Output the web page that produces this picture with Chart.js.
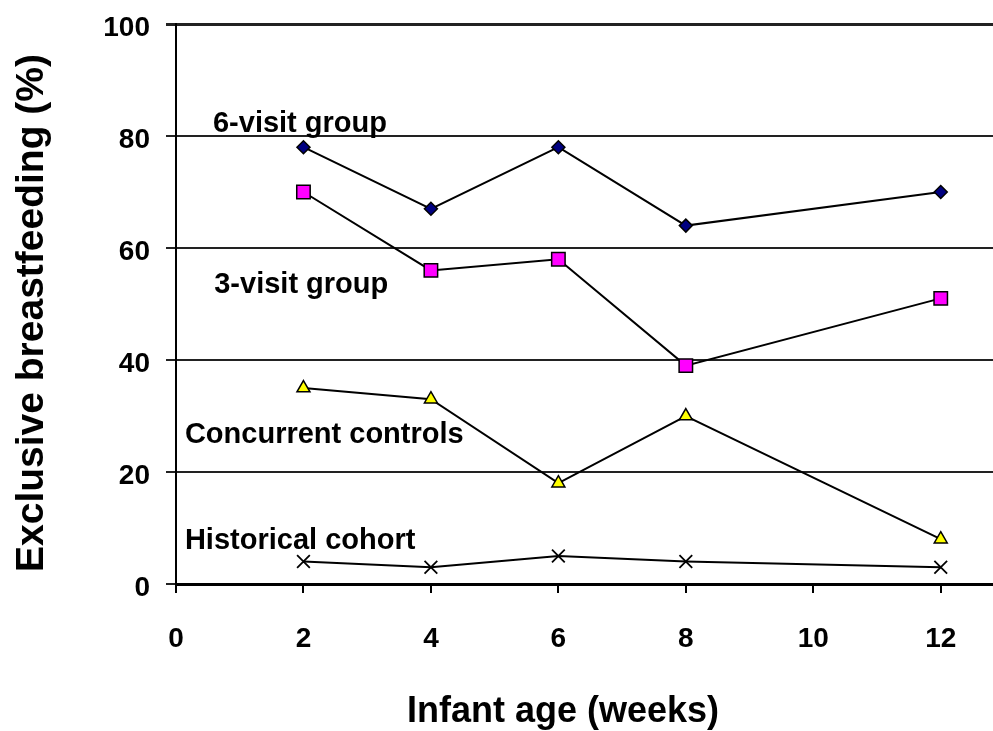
<!DOCTYPE html>
<html><head><meta charset="utf-8">
<script src="https://cdn.jsdelivr.net/npm/chart.js@4/dist/chart.umd.min.js"></script>
<style>html,body{margin:0;padding:0;background:#fff}#wrap{width:993px;height:731px;position:relative}</style>
</head><body><div id="wrap"><canvas id="c" width="993" height="731"></canvas></div>
<script>
const weeks = [2, 4, 6, 8, 12];
const sixVisit = [78, 67, 78, 64, 70];
const threeVisit = [70, 56, 58, 39, 51];
const concurrent = [35, 33, 18, 30, 8];
const historical = [4, 3, 5, 4, 3];
const xTickValues = [0, 2, 4, 6, 8, 10, 12];
const yTickValues = [0, 20, 40, 60, 80, 100];
const seriesNames = ['6-visit group', '3-visit group', 'Concurrent controls', 'Historical cohort'];
const xTitle = 'Infant age (weeks)';
const yTitle = 'Exclusive breastfeeding (%)';

const FAM = "'Liberation Sans', Arial, sans-serif";
const pts = arr => weeks.map((w, i) => ({x: w, y: arr[i]}));

const labelPlugin = {
  id: 'labels',
  afterDraw(chart) {
    const ctx = chart.ctx, xs = chart.scales.x, ys = chart.scales.y;
    ctx.save();
    ctx.fillStyle = '#000';
    ctx.textBaseline = 'alphabetic';
    ctx.textAlign = 'left';
    ctx.font = "bold 29px " + FAM;
    const anchors = [[0.58, 80.7], [0.6, 52.0], [0.14, 25.2], [0.14, 6.25]];
    seriesNames.forEach((n, i) => {
      ctx.fillText(n, xs.getPixelForValue(anchors[i][0]), ys.getPixelForValue(anchors[i][1]));
    });
    // x title
    ctx.textAlign = 'center';
    ctx.font = "bold 36px " + FAM;
    ctx.fillText(xTitle, 563, 722);
    // y title
    ctx.translate(43, 313);
    ctx.rotate(-Math.PI / 2);
    ctx.font = "bold 39px " + FAM;
    ctx.fillText(yTitle, 0, 0);
    ctx.restore();
  }
};

new Chart(document.getElementById('c'), {
  type: 'line',
  data: {
    datasets: [
      {label: seriesNames[0], data: pts(sixVisit), pointStyle: 'rectRot', pointRadius: 6.5,
       pointBackgroundColor: '#000080', pointBorderColor: '#000', pointBorderWidth: 1.5},
      {label: seriesNames[1], data: pts(threeVisit), pointStyle: 'rect', pointRadius: 9.5,
       pointBackgroundColor: '#FF00FF', pointBorderColor: '#000', pointBorderWidth: 1.5},
      {label: seriesNames[2], data: pts(concurrent), pointStyle: 'triangle', pointRadius: 7.5,
       pointBackgroundColor: '#FFFF00', pointBorderColor: '#000', pointBorderWidth: 1.5},
      {label: seriesNames[3], data: pts(historical), pointStyle: 'crossRot', pointRadius: 9,
       pointBackgroundColor: '#000', pointBorderColor: '#000', pointBorderWidth: 1.8}
    ].map(d => Object.assign({borderColor: '#000', borderWidth: 2, tension: 0, fill: false,
       pointHoverRadius: d.pointRadius}, d))
  },
  options: {
    responsive: false,
    devicePixelRatio: 1,
    animation: false,
    events: [],
    layout: {autoPadding: false, padding: {top: 24, left: 0, right: 0, bottom: 0}},
    plugins: {legend: {display: false}, tooltip: {enabled: false}},
    scales: {
      x: {
        type: 'linear', min: 0, max: 12.82,
        afterBuildTicks: s => { s.ticks = xTickValues.map(v => ({value: v})); },
        afterFit: s => { s.height = 147; s.paddingLeft = 0; s.paddingRight = 0; },
        grid: {drawOnChartArea: false, drawTicks: true, tickLength: 9, color: '#000', lineWidth: 2},
        border: {display: true, color: '#000', width: 3},
        ticks: {font: {family: FAM, size: 28, weight: 'bold'}, color: '#000', padding: 29, maxRotation: 0,
                callback: v => String(v)}
      },
      y: {
        min: 0, max: 100,
        afterBuildTicks: s => { s.ticks = yTickValues.map(v => ({value: v})); },
        afterFit: s => { s.width = 176; s.paddingTop = 0; s.paddingBottom = 0; },
        grid: {color: '#222', lineWidth: c => (c.tick && c.tick.value === 100) ? 3 : 2, tickLength: 10},
        border: {display: true, color: '#000', width: 2},
        ticks: {font: {family: FAM, size: 28, weight: 'bold'}, color: '#000', padding: 16, labelOffset: 4}
      }
    }
  },
  plugins: [labelPlugin]
});
</script>
</body></html>
